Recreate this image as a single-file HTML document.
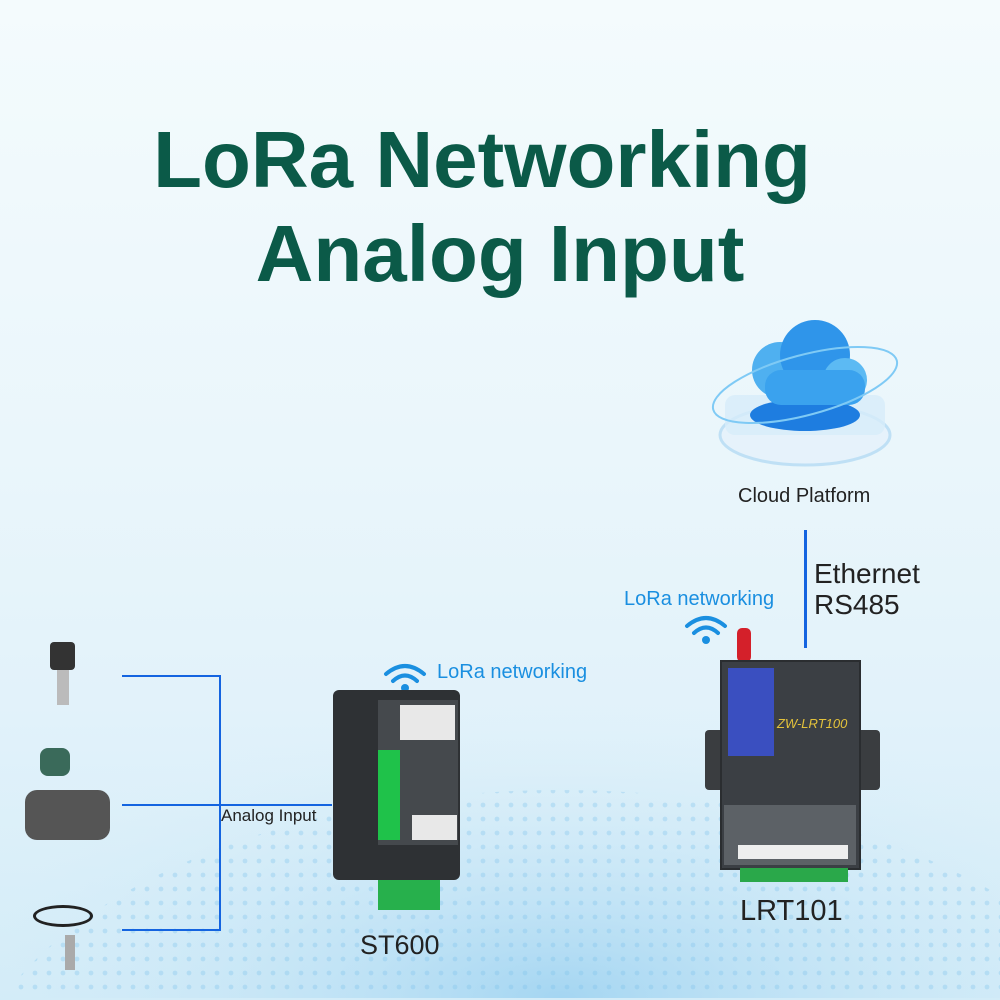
<!DOCTYPE html>
<html style="width:1000px;height:1000px;overflow:hidden"><head><meta charset="utf-8">
<style>
*{margin:0;padding:0;box-sizing:border-box}
body{width:1000px;height:1000px;overflow:hidden;position:relative;font-family:"Liberation Sans",sans-serif;
background:linear-gradient(180deg,#f4fbfd 0%,#eaf6fb 45%,#e2f2fa 70%,#d3ecf8 100%);}
.abs{position:absolute}
.title{position:absolute;left:0;width:1000px;text-align:center;color:#0b5a48;font-weight:bold;font-size:80px;letter-spacing:0px;line-height:1}
.lbl{position:absolute;color:#222;white-space:nowrap}
.blue{color:#1a8fe0}
.line{position:absolute;background:#1464e0}
</style></head><body>
<svg class="abs" style="left:0;top:560px;display:block;overflow:hidden" width="1000" height="438">
<defs><radialGradient id="g" cx="56%" cy="100%" r="70%"><stop offset="0" stop-color="#9fd3f1" stop-opacity=".9"/><stop offset="1" stop-color="#e2f2fa" stop-opacity="0"/></radialGradient>
<pattern id="d" width="14" height="14" patternUnits="userSpaceOnUse"><circle cx="7" cy="7" r="2.4" fill="#7cc0ea" opacity=".55"/></pattern>
<clipPath id="c"><ellipse cx="560" cy="560" rx="600" ry="330"/></clipPath></defs>
<rect x="0" y="0" width="1000" height="438" fill="url(#g)"/>
<rect x="0" y="0" width="1000" height="438" fill="url(#d)" opacity=".6" clip-path="url(#c)"/>
</svg>
<div class="title" style="top:120px;left:-18px">LoRa Networking</div>
<div class="title" style="top:214px">Analog Input</div>

<svg class="abs" style="left:710px;top:300px" width="200" height="180">
<ellipse cx="95" cy="135" rx="85" ry="30" fill="#e6f2fb" stroke="#bfe0f5" stroke-width="3"/>
<rect x="15" y="95" width="160" height="40" rx="10" fill="#d7ecfa" opacity=".8"/>
<ellipse cx="95" cy="115" rx="55" ry="16" fill="#1e7de0"/>
<circle cx="70" cy="70" r="28" fill="#4fb0f0"/><circle cx="105" cy="55" r="35" fill="#2f95ea"/><circle cx="135" cy="80" r="22" fill="#5cbaf3"/>
<rect x="55" y="70" width="100" height="35" rx="16" fill="#3aa2ee"/>
<ellipse cx="95" cy="85" rx="95" ry="30" fill="none" stroke="#7fcaf5" stroke-width="2" transform="rotate(-15 95 85)"/>
</svg>
<div class="lbl" style="left:738px;top:485px;font-size:20px">Cloud Platform</div>
<div class="line" style="left:804px;top:530px;width:3px;height:118px"></div>
<div class="lbl" style="left:814px;top:558px;font-size:28px;line-height:31px">Ethernet<br>RS485</div>
<div class="lbl blue" style="left:624px;top:588px;font-size:20px">LoRa networking</div>
<div class="lbl blue" style="left:437px;top:661px;font-size:20px">LoRa networking</div>
<svg class="abs" style="left:683px;top:610px" width="46" height="36"><g fill="none" stroke="#1a8fe0" stroke-width="4" stroke-linecap="round"><path d="M4 16 Q23 0 42 16"/><path d="M11 23 Q23 12 35 23"/></g><circle cx="23" cy="30" r="4" fill="#1a8fe0"/></svg>
<svg class="abs" style="left:382px;top:658px" width="46" height="36"><g fill="none" stroke="#1a8fe0" stroke-width="4" stroke-linecap="round"><path d="M4 16 Q23 0 42 16"/><path d="M11 23 Q23 12 35 23"/></g><circle cx="23" cy="30" r="4" fill="#1a8fe0"/></svg>

<div class="abs" style="left:737px;top:628px;width:14px;height:34px;background:#d4202a;border-radius:5px"></div>
<div class="abs" style="left:705px;top:730px;width:175px;height:60px;background:#3a3d40;border-radius:4px"></div>
<div class="abs" style="left:720px;top:660px;width:141px;height:210px;background:#3b3f44;border:2px solid #2a2d30"></div>
<div class="abs" style="left:728px;top:668px;width:46px;height:88px;background:#3a4fc0"></div>
<div class="lbl" style="left:777px;top:716px;font-size:13px;color:#e3c23b;font-style:italic">ZW-LRT100</div>
<div class="abs" style="left:724px;top:805px;width:132px;height:60px;background:#5c6166"></div>
<div class="abs" style="left:738px;top:845px;width:110px;height:14px;background:#eee"></div>
<div class="abs" style="left:740px;top:868px;width:108px;height:14px;background:#2aa84a"></div>
<div class="lbl" style="left:740px;top:895px;font-size:29px">LRT101</div>

<div class="abs" style="left:333px;top:690px;width:127px;height:190px;background:#2e3134;border-radius:6px"></div>
<div class="abs" style="left:378px;top:700px;width:80px;height:145px;background:#45494d"></div>
<div class="abs" style="left:378px;top:750px;width:22px;height:90px;background:#1fc24a"></div>
<div class="abs" style="left:400px;top:705px;width:55px;height:35px;background:#e8e8e8"></div>
<div class="abs" style="left:412px;top:815px;width:45px;height:25px;background:#e8e8e8"></div>
<div class="abs" style="left:378px;top:880px;width:62px;height:30px;background:#27b04c"></div>
<div class="lbl" style="left:360px;top:930px;font-size:27px">ST600</div>

<div class="line" style="left:122px;top:675px;width:99px;height:2px"></div>
<div class="line" style="left:122px;top:804px;width:210px;height:2px"></div>
<div class="line" style="left:122px;top:929px;width:99px;height:2px"></div>
<div class="line" style="left:219px;top:675px;width:2px;height:256px"></div>
<div class="lbl" style="left:221px;top:806px;font-size:17px">Analog Input</div>

<div class="abs" style="left:50px;top:642px;width:25px;height:28px;background:#333;border-radius:4px"></div>
<div class="abs" style="left:57px;top:670px;width:12px;height:35px;background:#bbb"></div>
<div class="abs" style="left:40px;top:748px;width:30px;height:28px;background:#3a6a5a;border-radius:8px"></div>
<div class="abs" style="left:25px;top:790px;width:85px;height:50px;background:#555;border-radius:12px"></div>
<div class="abs" style="left:33px;top:905px;width:60px;height:22px;border:3px solid #222;border-radius:50%"></div>
<div class="abs" style="left:65px;top:935px;width:10px;height:35px;background:#aaa"></div>
</body></html>
